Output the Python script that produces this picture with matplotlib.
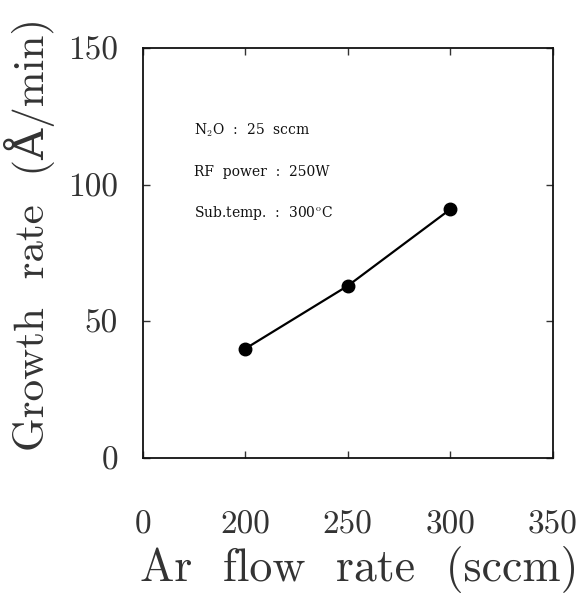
import matplotlib
matplotlib.use("Agg")
import matplotlib.pyplot as plt

ar_flow = [200, 250, 300]
growth_rate = [40, 63, 91]
xticks = [150, 200, 250, 300, 350]
xtick_labels = ["0", "200", "250", "300", "350"]
yticks = [0, 50, 100, 150]
ytick_labels = ["0", "50", "100", "150"]
notes = ["N$_2$O  :  25  sccm", "RF  power  :  250W", "Sub.temp.  :  300$^{\\rm o}$C"]
note_y = [120, 104.5, 89.5]

plt.rcParams['font.family'] = ['cmr10', 'DejaVu Serif']
plt.rcParams['mathtext.fontset'] = 'cm'
plt.rcParams['axes.unicode_minus'] = False

fig = plt.figure(figsize=(5.88, 6.01), dpi=100)
ax = fig.add_axes([0.243, 0.238, 0.697, 0.682])
ax.plot(ar_flow, growth_rate, color='black', lw=1.6, marker='o', ms=9,
        markerfacecolor='black', markeredgecolor='black')
ax.set_xlim(150, 350)
ax.set_ylim(0, 150)
ax.set_xticks(xticks)
ax.set_xticklabels(xtick_labels)
ax.set_yticks(yticks)
ax.set_yticklabels(ytick_labels)
ax.tick_params(direction='in', length=5, width=1, top=True, right=True,
               labelsize=24, colors='#333333')
ax.tick_params(axis='x', pad=38)
ax.tick_params(axis='y', pad=18)
for s in ax.spines.values():
    s.set_linewidth(1.3)
    s.set_color('#111111')

for t, y in zip(notes, note_y):
    ax.text(175, y, t, fontsize=10, color='#111111', family=['DejaVu Serif'],
            va='center', ha='left')

ax.set_xlabel("Ar  flow  rate  (sccm)", fontsize=33, color='#333333')
ax.set_ylabel("Growth  rate  (Å/min)", fontsize=31, color='#333333')
ax.xaxis.set_label_coords(0.527, -0.215)
ax.yaxis.set_label_coords(-0.215, 0.545)

fig.savefig("out.png", dpi=100)
